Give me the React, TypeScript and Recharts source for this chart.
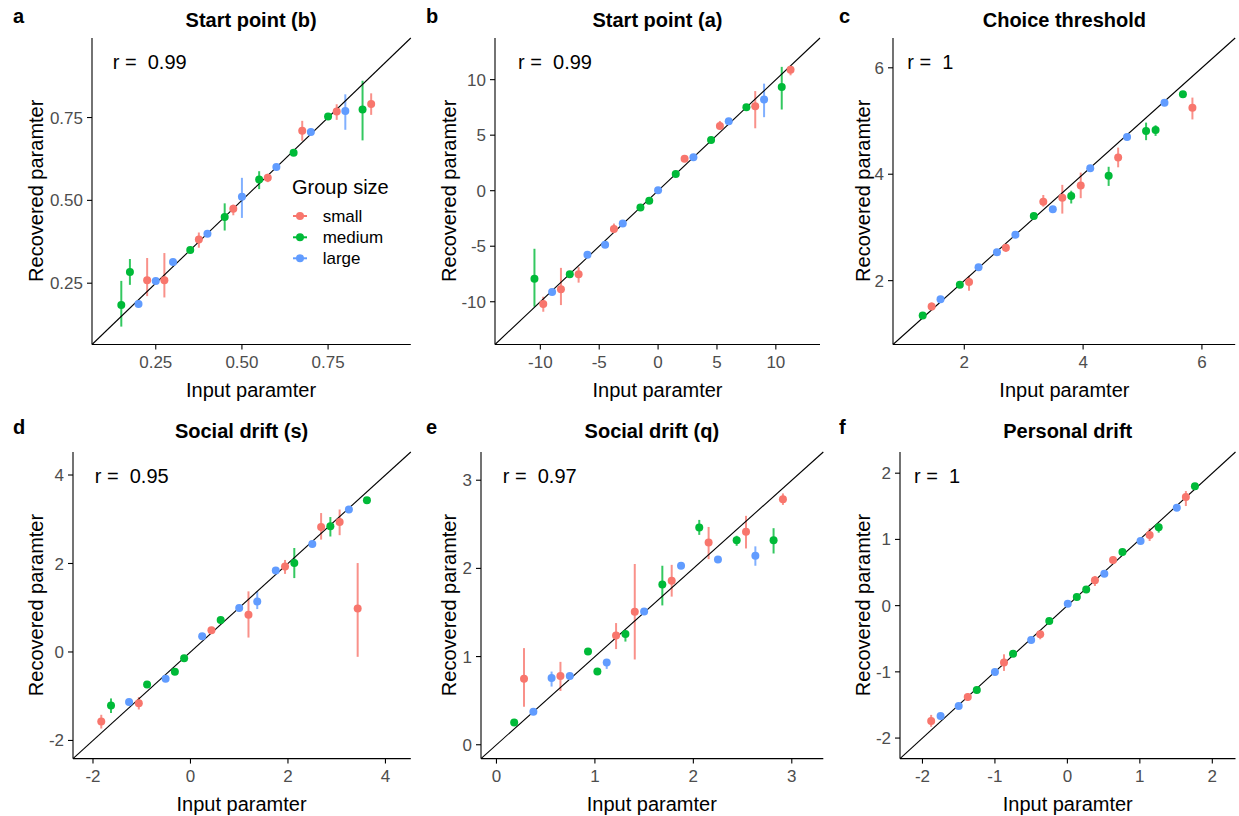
import React from 'react';
import { ScatterChart, Scatter, XAxis, YAxis, ErrorBar, ReferenceLine } from 'recharts';

const FONT = '"Liberation Sans", Arial, Helvetica, sans-serif';
const GROUP_COLORS: Record<string, string> = { S: '#F8766D', M: '#00BA38', L: '#619CFF' };
const GROUP_ORDER = ['S', 'M', 'L'];
const GROUP_LABELS = ['small', 'medium', 'large'];
const TICK_STYLE = { fontSize: 17, fill: '#4D4D4D', fontFamily: FONT };

// a: start point (b)
const aInput = [0.15, 0.175, 0.2, 0.225, 0.25, 0.275, 0.3, 0.35, 0.375, 0.4, 0.45, 0.475, 0.5, 0.55, 0.575, 0.6, 0.65, 0.675, 0.7, 0.75, 0.775, 0.8, 0.85, 0.875];
const aRecovered = [0.184, 0.284, 0.187, 0.259, 0.257, 0.259, 0.314, 0.35, 0.382, 0.399, 0.45, 0.475, 0.511, 0.563, 0.568, 0.601, 0.644, 0.71, 0.706, 0.753, 0.768, 0.77, 0.774, 0.791];
const aLow = [0.119, 0.245, 0.182, 0.211, 0.252, 0.207, 0.309, 0.345, 0.357, 0.394, 0.409, 0.455, 0.447, 0.534, 0.555, 0.596, 0.639, 0.68, 0.701, 0.748, 0.743, 0.713, 0.681, 0.758];
const aHigh = [0.257, 0.323, 0.192, 0.326, 0.262, 0.341, 0.319, 0.355, 0.403, 0.404, 0.491, 0.487, 0.568, 0.588, 0.58, 0.606, 0.649, 0.74, 0.711, 0.758, 0.79, 0.82, 0.861, 0.823];
const aGroup = 'MMLSLSLMSLMSLMSLMSLMSLMS';

// b: start point (a)
const bInput = [-10.5, -9.75, -9, -8.25, -7.5, -6.75, -6, -4.5, -3.75, -3, -1.5, -0.75, 0, 1.5, 2.25, 3, 4.5, 5.25, 6, 7.5, 8.25, 9, 10.5, 11.25];
const bRecovered = [-7.92, -10.21, -9.12, -8.88, -7.52, -7.52, -5.77, -4.86, -3.44, -2.96, -1.51, -0.91, 0.03, 1.51, 2.87, 3.02, 4.56, 5.83, 6.25, 7.52, 7.61, 8.22, 9.34, 10.88];
const bLow = [-10.45, -10.9, -9.3, -10.3, -7.7, -8.28, -5.95, -5.05, -3.8, -3.13, -1.68, -1.08, -0.14, 1.35, 2.7, 2.85, 4.4, 5.56, 6.08, 7.35, 5.62, 6.62, 7.31, 10.39];
const bHigh = [-5.23, -9.55, -8.95, -6.95, -7.35, -6.89, -5.6, -4.7, -2.96, -2.8, -1.35, -0.75, 0.2, 1.68, 3.05, 3.2, 4.73, 6.28, 6.42, 7.7, 8.97, 9.64, 11.15, 11.24];
const bGroup = 'MSLSMSLLSLMMLMSLMSLMSLMS';

// c: choice threshold
const cInput = [1.3, 1.45, 1.6, 1.925, 2.08, 2.24, 2.55, 2.7, 2.86, 3.17, 3.33, 3.49, 3.65, 3.8, 3.96, 4.12, 4.43, 4.59, 4.74, 5.06, 5.22, 5.37, 5.68, 5.84];
const cRecovered = [1.343, 1.512, 1.649, 1.925, 1.975, 2.25, 2.532, 2.62, 2.864, 3.214, 3.484, 3.34, 3.56, 3.59, 3.79, 4.11, 3.97, 4.316, 4.698, 4.81, 4.83, 5.343, 5.505, 5.25];
const cLow = [1.32, 1.44, 1.625, 1.9, 1.81, 2.225, 2.51, 2.54, 2.84, 3.19, 3.39, 3.315, 3.26, 3.45, 3.55, 4.085, 3.78, 4.13, 4.675, 4.64, 4.72, 5.32, 5.48, 5.03];
const cHigh = [1.366, 1.59, 1.673, 1.95, 2.09, 2.275, 2.555, 2.7, 2.888, 3.24, 3.61, 3.365, 3.8, 3.69, 4.03, 4.135, 4.14, 4.5, 4.72, 4.97, 4.92, 5.366, 5.53, 5.44];
const cGroup = 'MSLMSLLSLMSLSMSLMSLMMLMS';

// d: social drift (s)
const dInput = [-1.83, -1.63, -1.26, -1.06, -0.89, -0.51, -0.32, -0.13, 0.24, 0.43, 0.62, 1.0, 1.19, 1.37, 1.75, 1.94, 2.13, 2.5, 2.68, 2.87, 3.06, 3.25, 3.43, 3.62];
const dRecovered = [-1.57, -1.21, -1.13, -1.16, -0.735, -0.606, -0.447, -0.144, 0.356, 0.492, 0.72, 0.992, 0.84, 1.14, 1.84, 1.93, 2.01, 2.44, 2.826, 2.84, 2.94, 3.22, 0.985, 3.43];
const dLow = [-1.73, -1.38, -1.18, -1.3, -0.78, -0.65, -0.49, -0.19, 0.31, 0.44, 0.67, 0.95, 0.326, 0.97, 1.8, 1.765, 1.67, 2.4, 2.54, 2.61, 2.64, 3.18, -0.11, 3.39];
const dHigh = [-1.42, -1.05, -1.08, -1.02, -0.69, -0.56, -0.4, -0.1, 0.4, 0.54, 0.77, 1.04, 1.37, 1.37, 1.88, 2.08, 2.35, 2.48, 3.14, 3.05, 3.22, 3.26, 2.01, 3.47];
const dGroup = 'SMLSMLMMLSMLSLLSMLSMSLSM';

// e: social drift (q)
const eInput = [0.18, 0.28, 0.375, 0.56, 0.65, 0.745, 0.93, 1.025, 1.12, 1.215, 1.31, 1.405, 1.5, 1.685, 1.78, 1.875, 2.06, 2.155, 2.25, 2.44, 2.535, 2.63, 2.815, 2.91];
const eRecovered = [0.253, 0.748, 0.374, 0.756, 0.779, 0.779, 1.058, 0.831, 0.933, 1.24, 1.255, 1.508, 1.512, 1.818, 1.859, 2.03, 2.464, 2.294, 2.101, 2.32, 2.415, 2.143, 2.32, 2.785];
const eLow = [0.23, 0.431, 0.35, 0.66, 0.61, 0.755, 1.035, 0.81, 0.86, 1.085, 1.17, 0.967, 1.49, 1.58, 1.68, 2.005, 2.38, 2.105, 2.08, 2.256, 2.226, 2.03, 2.169, 2.72];
const eHigh = [0.276, 1.096, 0.4, 0.83, 0.94, 0.8, 1.08, 0.855, 0.97, 1.38, 1.29, 2.05, 1.535, 2.03, 2.04, 2.055, 2.55, 2.47, 2.125, 2.37, 2.596, 2.25, 2.456, 2.85];
const eGroup = 'MSLLSLMMLSMSLMSLMSLMSLMS';

// f: personal drift
const fInput = [-1.88, -1.75, -1.5, -1.375, -1.25, -1.0, -0.875, -0.75, -0.5, -0.375, -0.25, 0.005, 0.13, 0.26, 0.38, 0.51, 0.63, 0.76, 1.01, 1.135, 1.26, 1.51, 1.635, 1.76];
const fRecovered = [-1.741, -1.665, -1.514, -1.379, -1.273, -1.001, -0.86, -0.725, -0.518, -0.433, -0.231, 0.03, 0.131, 0.242, 0.382, 0.483, 0.689, 0.81, 0.976, 1.067, 1.182, 1.479, 1.64, 1.801];
const fLow = [-1.83, -1.69, -1.54, -1.44, -1.3, -1.025, -0.986, -0.75, -0.543, -0.508, -0.256, 0.005, 0.106, 0.217, 0.297, 0.458, 0.634, 0.785, 0.951, 0.976, 1.102, 1.454, 1.504, 1.776];
const fHigh = [-1.65, -1.64, -1.489, -1.32, -1.248, -0.976, -0.735, -0.7, -0.493, -0.372, -0.206, 0.055, 0.156, 0.267, 0.448, 0.508, 0.74, 0.835, 1.001, 1.167, 1.238, 1.504, 1.731, 1.826];
const fGroup = 'SLLSMLSMLSMLMMSLSMLSMLSM';

const YW = 60;
const XH = 40;
const MT = 5;
const MR = 4;
const DOT_R = 4;

type Pt = { x: number; y: number; err: [number, number] };

function splitGroups(input: number[], recovered: number[], low: number[], high: number[], group: string) {
  const out: Record<string, Pt[]> = { S: [], M: [], L: [] };
  input.forEach((x, i) => {
    const y = recovered[i];
    out[group[i]].push({ x, y, err: [y - low[i], high[i] - y] });
  });
  return out;
}

const dotShape = (color: string) => (p: any) => <circle cx={p.cx} cy={p.cy} r={DOT_R} fill={color} />;

interface PanelProps {
  box: [number, number, number, number];
  domain: [number, number];
  ticks: number[];
  fmt?: (v: number) => string;
  input: number[];
  recovered: number[];
  low: number[];
  high: number[];
  group: string;
}

function Panel(p: PanelProps) {
  const [l, t, r, b] = p.box;
  const series = splitGroups(p.input, p.recovered, p.low, p.high, p.group);
  const [d0, d1] = p.domain;
  return (
    <div style={{ position: 'absolute', left: l - YW, top: t - MT }}>
      <ScatterChart width={r - l + YW + MR} height={b - t + MT + XH}
        margin={{ top: MT, right: MR, bottom: 0, left: 0 }}>
        <XAxis type="number" dataKey="x" domain={p.domain} ticks={p.ticks} allowDataOverflow
          height={XH} interval={0} tick={TICK_STYLE} tickFormatter={p.fmt} tickSize={5} tickMargin={6}
          axisLine={{ stroke: '#000', strokeWidth: 1.1 }} tickLine={{ stroke: '#000', strokeWidth: 1.1 }} />
        <YAxis type="number" dataKey="y" domain={p.domain} ticks={p.ticks} allowDataOverflow
          width={YW} interval={0} tick={TICK_STYLE} tickFormatter={p.fmt} tickSize={5} tickMargin={4}
          axisLine={{ stroke: '#000', strokeWidth: 1.1 }} tickLine={{ stroke: '#000', strokeWidth: 1.1 }} />
        {GROUP_ORDER.map((g) => (
          <Scatter key={g} data={series[g]} fill={GROUP_COLORS[g]} isAnimationActive={false}
            shape={dotShape(GROUP_COLORS[g])}>
            <ErrorBar dataKey="err" direction="y" width={0} stroke={GROUP_COLORS[g]}
              strokeWidth={2} strokeOpacity={0.8} isAnimationActive={false} />
          </Scatter>
        ))}
        <ReferenceLine segment={[{ x: d0, y: d0 }, { x: d1, y: d1 }]} stroke="#000"
          strokeWidth={1.1} ifOverflow="visible" />
      </ScatterChart>
    </div>
  );
}

interface Labels {
  box: [number, number, number, number];
  letter: string;
  letterX: number;
  title: string;
  titleY: number;
  r: string;
  rOffset: number;
  yTitleX: number;
}

const fmt2 = (v: number) => v.toFixed(2);

const BOX_A: [number, number, number, number] = [91.7, 37.5, 410.5, 344];
const BOX_B: [number, number, number, number] = [495, 37.5, 820, 344];
const BOX_C: [number, number, number, number] = [893.3, 37.5, 1235.5, 344];
const BOX_D: [number, number, number, number] = [72.7, 451.7, 410.5, 758.3];
const BOX_E: [number, number, number, number] = [480.7, 451.7, 823, 758.3];
const BOX_F: [number, number, number, number] = [900, 451.7, 1235.5, 758.3];

const LABELS: Labels[] = [
  { box: BOX_A, letter: 'a', letterX: 13, title: 'Start point (b)', titleY: 27, r: 'r =  0.99', rOffset: 21, yTitleX: 36 },
  { box: BOX_B, letter: 'b', letterX: 426, title: 'Start point (a)', titleY: 27, r: 'r =  0.99', rOffset: 23, yTitleX: 449 },
  { box: BOX_C, letter: 'c', letterX: 839, title: 'Choice threshold', titleY: 27, r: 'r =  1', rOffset: 14, yTitleX: 862.5 },
  { box: BOX_D, letter: 'd', letterX: 13, title: 'Social drift (s)', titleY: 438, r: 'r =  0.95', rOffset: 22, yTitleX: 36 },
  { box: BOX_E, letter: 'e', letterX: 426, title: 'Social drift (q)', titleY: 438, r: 'r =  0.97', rOffset: 22, yTitleX: 449 },
  { box: BOX_F, letter: 'f', letterX: 839, title: 'Personal drift', titleY: 438, r: 'r =  1', rOffset: 14, yTitleX: 862.5 },
];

function Overlay() {
  return (
    <svg width={1239} height={816} style={{ position: 'absolute', left: 0, top: 0, pointerEvents: 'none' }}
      fontFamily={FONT}>
      {LABELS.map((lb) => {
        const [l, t, r, b] = lb.box;
        const cx = (l + r) / 2;
        const cy = (t + b) / 2;
        return (
          <g key={lb.letter}>
            <text x={lb.letterX} y={lb.titleY - 4} fontSize={20} fontWeight="bold" fill="#000">{lb.letter}</text>
            <text x={cx} y={lb.titleY} fontSize={20} fontWeight="bold" textAnchor="middle" fill="#000">{lb.title}</text>
            <text x={l + lb.rOffset} y={t + 31} fontSize={20} fill="#000" style={{ whiteSpace: 'pre' }}>{lb.r}</text>
            <text x={cx} y={b + 53} fontSize={20} textAnchor="middle" fill="#000">Input paramter</text>
            <text x={lb.yTitleX} y={cy} fontSize={20} textAnchor="middle" dominantBaseline="central" fill="#000"
              transform={`rotate(-90 ${lb.yTitleX} ${cy})`}>Recovered paramter</text>
          </g>
        );
      })}
      <text x={292} y={193.5} fontSize={20} fill="#000">Group size</text>
      {GROUP_ORDER.map((g, i) => {
        const y = [216, 237.3, 258.3][i];
        return (
          <g key={g}>
            <line x1={293} x2={307} y1={y} y2={y} stroke={GROUP_COLORS[g]} strokeWidth={2} />
            <circle cx={300} cy={y} r={DOT_R} fill={GROUP_COLORS[g]} />
            <text x={322.7} y={y + 6} fontSize={17} fill="#000">{GROUP_LABELS[i]}</text>
          </g>
        );
      })}
    </svg>
  );
}

export default function App() {
  return (
    <div style={{ position: 'absolute', left: 0, top: 0, width: 1239, height: 816, background: '#fff', fontFamily: FONT }}>
      <Panel box={BOX_A} domain={[0.065, 0.99]} ticks={[0.25, 0.5, 0.75]} fmt={fmt2}
        input={aInput} recovered={aRecovered} low={aLow} high={aHigh} group={aGroup} />
      <Panel box={BOX_B} domain={[-13.85, 13.75]} ticks={[-10, -5, 0, 5, 10]}
        input={bInput} recovered={bRecovered} low={bLow} high={bHigh} group={bGroup} />
      <Panel box={BOX_C} domain={[0.8, 6.56]} ticks={[2, 4, 6]}
        input={cInput} recovered={cRecovered} low={cLow} high={cHigh} group={cGroup} />
      <Panel box={BOX_D} domain={[-2.41, 4.52]} ticks={[-2, 0, 2, 4]}
        input={dInput} recovered={dRecovered} low={dLow} high={dHigh} group={dGroup} />
      <Panel box={BOX_E} domain={[-0.157, 3.32]} ticks={[0, 1, 2, 3]}
        input={eInput} recovered={eRecovered} low={eLow} high={eHigh} group={eGroup} />
      <Panel box={BOX_F} domain={[-2.31, 2.32]} ticks={[-2, -1, 0, 1, 2]}
        input={fInput} recovered={fRecovered} low={fLow} high={fHigh} group={fGroup} />
      <Overlay />
    </div>
  );
}
